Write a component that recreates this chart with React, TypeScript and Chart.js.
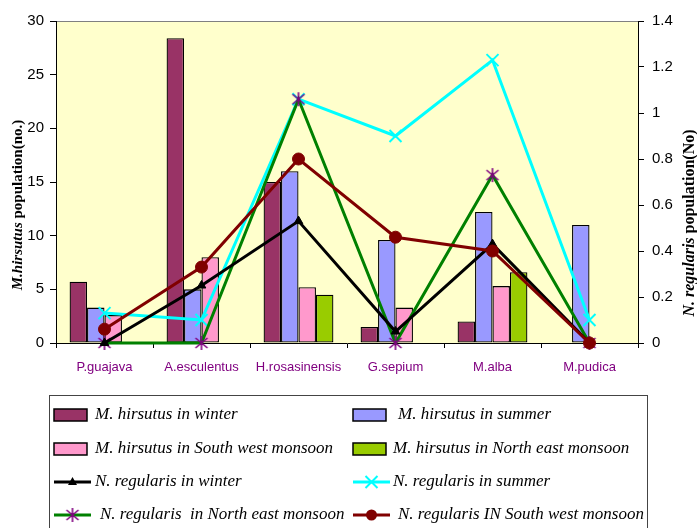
import React, { useEffect, useRef } from "react";
import { Chart, registerables } from "chart.js";

Chart.register(...registerables);

const categories = ["P.guajava", "A.esculentus", "H.rosasinensis", "G.sepium", "M.alba", "M.pudica"];

const hirsutusWinter = [5.7, 28.4, 15, 1.5, 2, 0];
const hirsutusSummer = [3.3, 5, 16, 9.6, 12.2, 11];
const hirsutusSW = [2.6, 8, 5.2, 3.3, 5.3, 0];
const hirsutusNE = [0, 0, 4.5, 0, 6.6, 0];

const regularisWinter = [0, 0.25, 0.53, 0.05, 0.43, 0];
const regularisSummer = [0.13, 0.1, 1.06, 0.9, 1.23, 0.1];
const regularisNE = [0, 0, 1.06, 0, 0.73, 0];
const regularisSW = [0.06, 0.33, 0.8, 0.46, 0.4, 0];

const seriesLabels = [
  "M. hirsutus in winter",
  "M. hirsutus in summer",
  "M. hirsutus in South west monsoon",
  "M. hirsutus in North east monsoon",
  "N. regularis in winter",
  "N. regularis in summer",
  "N. regularis  in North east monsoon",
  "N. regularis IN South west monsoon",
];

const leftTitle = [
  { t: "M.hirsutus", italic: true },
  { t: " population(no.)", italic: false },
];
const rightTitle = [
  { t: "N. regularis", italic: true },
  { t: " population(No)", italic: false },
];

function makeStar(): HTMLCanvasElement {
  const c = document.createElement("canvas");
  c.width = 16;
  c.height = 16;
  const g = c.getContext("2d")!;
  g.strokeStyle = "#800080";
  g.lineWidth = 1.6;
  g.beginPath();
  g.moveTo(8, 1);
  g.lineTo(8, 15);
  g.moveTo(2, 3);
  g.lineTo(14, 13);
  g.moveTo(14, 3);
  g.lineTo(2, 13);
  g.stroke();
  return c;
}

function drawMarker(ctx: CanvasRenderingContext2D, style: any, x: number, y: number, color: string) {
  ctx.save();
  if (style === "triangle") {
    ctx.fillStyle = color;
    ctx.beginPath();
    ctx.moveTo(x, y - 5);
    ctx.lineTo(x + 4.5, y + 3);
    ctx.lineTo(x - 4.5, y + 3);
    ctx.closePath();
    ctx.fill();
  } else if (style === "crossRot") {
    ctx.strokeStyle = color;
    ctx.lineWidth = 2;
    ctx.beginPath();
    ctx.moveTo(x - 6, y - 6);
    ctx.lineTo(x + 6, y + 6);
    ctx.moveTo(x + 6, y - 6);
    ctx.lineTo(x - 6, y + 6);
    ctx.stroke();
  } else if (style === "circle") {
    ctx.fillStyle = color;
    ctx.beginPath();
    ctx.arc(x, y, 5.5, 0, Math.PI * 2);
    ctx.fill();
  } else if (style instanceof HTMLCanvasElement) {
    ctx.drawImage(style, x - 8, y - 8);
  }
  ctx.restore();
}

function drawRotTitle(ctx: CanvasRenderingContext2D, parts: { t: string; italic: boolean }[], cx: number, cy: number, size: number) {
  ctx.save();
  const fonts = parts.map((p) => `${p.italic ? "italic " : ""}bold ${size}px 'Liberation Serif', 'Times New Roman', serif`);
  let total = 0;
  const widths = parts.map((p, i) => {
    ctx.font = fonts[i];
    const w = ctx.measureText(p.t).width;
    total += w;
    return w;
  });
  ctx.translate(cx, cy);
  ctx.rotate(-Math.PI / 2);
  ctx.fillStyle = "#000";
  ctx.textBaseline = "middle";
  ctx.textAlign = "left";
  let x = -total / 2;
  parts.forEach((p, i) => {
    ctx.font = fonts[i];
    ctx.fillText(p.t, x, 0);
    x += widths[i];
  });
  ctx.restore();
}

const decorPlugin = {
  id: "decor",
  beforeDraw(chart: any) {
    const { ctx, chartArea: a } = chart;
    ctx.save();
    ctx.fillStyle = "#FFFFCC";
    ctx.fillRect(a.left, a.top, a.right - a.left, a.bottom - a.top);
    ctx.strokeStyle = "#808080";
    ctx.lineWidth = 1;
    ctx.beginPath();
    ctx.moveTo(a.left, a.top + 0.5);
    ctx.lineTo(a.right, a.top + 0.5);
    ctx.stroke();
    ctx.restore();
  },
  afterDraw(chart: any) {
    const ctx: CanvasRenderingContext2D = chart.ctx;
    drawRotTitle(ctx, leftTitle, 18, 205, 15);
    drawRotTitle(ctx, rightTitle, 690, 223, 16);

    // legend
    ctx.save();
    ctx.strokeStyle = "#444";
    ctx.lineWidth = 1;
    ctx.strokeRect(49.5, 395.5, 598, 140);
    const rowY = [415, 449, 482, 515];
    const colX = [54, 353];
    const textX = [
      [95, 398],
      [95, 393],
      [95, 393],
      [100, 398],
    ];
    chart.data.datasets.forEach((ds: any, i: number) => {
      const row = Math.floor(i / 2);
      const col = i % 2;
      const y = rowY[row];
      const x0 = colX[col];
      if (ds.type === "bar") {
        ctx.fillStyle = ds.backgroundColor;
        ctx.fillRect(x0, y - 6, 33, 12);
        ctx.strokeStyle = "#000";
        ctx.lineWidth = 1.5;
        ctx.strokeRect(x0, y - 6, 33, 12);
      } else {
        ctx.strokeStyle = ds.borderColor;
        ctx.lineWidth = 3;
        ctx.beginPath();
        ctx.moveTo(x0, y);
        ctx.lineTo(x0 + 37, y);
        ctx.stroke();
        drawMarker(ctx, ds.pointStyle, x0 + 18.5, y, ds.pointBackgroundColor);
      }
      ctx.fillStyle = "#000";
      ctx.font = "italic 17px 'Liberation Serif', 'Times New Roman', serif";
      ctx.textBaseline = "middle";
      ctx.textAlign = "left";
      ctx.fillText(ds.label, textX[row][col], y);
    });
    ctx.restore();
  },
};

export default function App() {
  const ref = useRef<HTMLCanvasElement | null>(null);
  useEffect(() => {
    if (!ref.current) return;
    const star = makeStar();
    const barCommon = {
      type: "bar" as const,
      yAxisID: "y",
      borderColor: "#000",
      borderWidth: 1.3,
      borderSkipped: false,
      barPercentage: 1,
      categoryPercentage: 0.72,
      order: 10,
    };
    const lineCommon = {
      type: "line" as const,
      yAxisID: "y1",
      borderWidth: 3,
      fill: false,
      tension: 0,
      clip: false,
    };
    const chart = new Chart(ref.current, {
      type: "bar",
      data: {
        labels: categories,
        datasets: [
          { ...barCommon, label: seriesLabels[0], data: hirsutusWinter, backgroundColor: "#993366" },
          { ...barCommon, label: seriesLabels[1], data: hirsutusSummer, backgroundColor: "#9999FF" },
          { ...barCommon, label: seriesLabels[2], data: hirsutusSW, backgroundColor: "#FF99CC" },
          { ...barCommon, label: seriesLabels[3], data: hirsutusNE, backgroundColor: "#99CC00" },
          {
            ...lineCommon, label: seriesLabels[4], data: regularisWinter, borderColor: "#000000",
            pointStyle: "triangle", pointRadius: 5, pointBackgroundColor: "#000000", pointBorderColor: "#000000", pointBorderWidth: 1, order: 2,
          },
          {
            ...lineCommon, label: seriesLabels[5], data: regularisSummer, borderColor: "#00FFFF",
            pointStyle: "crossRot", pointRadius: 8.5, pointBackgroundColor: "#00FFFF", pointBorderColor: "#00FFFF", pointBorderWidth: 2, order: 4,
          },
          {
            ...lineCommon, label: seriesLabels[6], data: regularisNE, borderColor: "#008000",
            pointStyle: star, pointRadius: 8, pointBackgroundColor: "#800080", pointBorderColor: "#800080", order: 3,
          },
          {
            ...lineCommon, label: seriesLabels[7], data: regularisSW, borderColor: "#800000",
            pointStyle: "circle", pointRadius: 6, pointBackgroundColor: "#800000", pointBorderColor: "#800000", pointBorderWidth: 1, order: 1,
          },
        ] as any,
      },
      options: {
        responsive: false,
        animation: false,
        events: [],
        layout: { padding: { top: 21, bottom: 145, left: 0, right: 0 } },
        plugins: { legend: { display: false }, tooltip: { enabled: false }, title: { display: false } },
        scales: {
          x: {
            type: "category",
            offset: true,
            grid: { offset: true, drawOnChartArea: false, drawTicks: true, tickLength: 5, color: "#000", lineWidth: 1 },
            border: { display: true, color: "#000", width: 1 },
            ticks: {
              color: "#800080",
              font: { family: "'Liberation Sans', Arial, sans-serif", size: 13 },
              padding: 12,
              maxRotation: 0,
              autoSkip: false,
            },
            afterFit: (s: any) => { s.height = 40; },
          },
          y: {
            position: "left",
            min: 0,
            max: 30,
            grid: { drawOnChartArea: false, drawTicks: true, tickLength: 6, color: "#000" },
            border: { display: true, color: "#000", width: 1 },
            ticks: {
              stepSize: 5,
              color: "#000",
              font: { family: "'Liberation Sans', Arial, sans-serif", size: 15 },
              padding: 6,
            },
            afterFit: (s: any) => { s.width = 56; },
          },
          y1: {
            position: "right",
            min: 0,
            max: 1.4,
            grid: { drawOnChartArea: false, drawTicks: true, tickLength: 6, color: "#000" },
            border: { display: true, color: "#000", width: 1 },
            ticks: {
              stepSize: 0.2,
              color: "#000",
              font: { family: "'Liberation Sans', Arial, sans-serif", size: 15 },
              padding: 8,
              callback: (v: any) => String(parseFloat(Number(v).toFixed(1))),
            },
            afterFit: (s: any) => { s.width = 59; },
          },
        },
      } as any,
      plugins: [decorPlugin],
    });
    return () => chart.destroy();
  }, []);
  return (
    <div style={{ position: "absolute", left: 0, top: 0, width: 697, height: 528, background: "#fff" }}>
      <canvas ref={ref} width={697} height={528} style={{ display: "block", width: 697, height: 528 }} />
    </div>
  );
}
